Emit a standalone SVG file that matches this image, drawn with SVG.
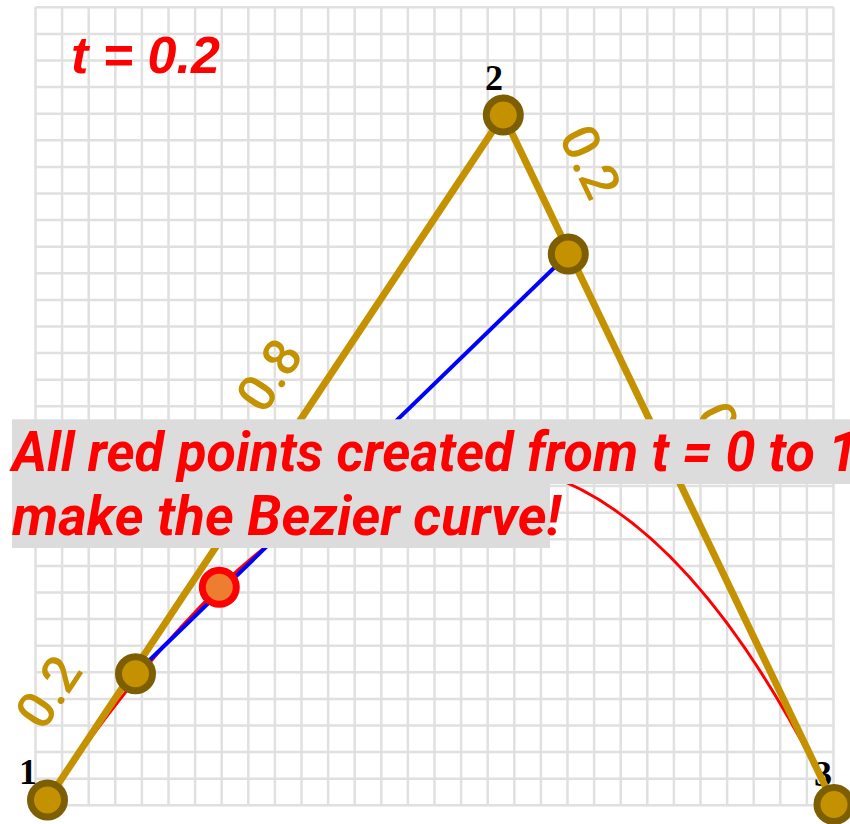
<svg xmlns="http://www.w3.org/2000/svg" width="850" height="824" viewBox="0 0 850 824">
<style>
.grid{stroke:#e0e0e0;stroke-width:2.5;fill:none}
.ctrl{stroke:#c49100;stroke-width:7;fill:none}
.blue{stroke:#0000ff;stroke-width:4;fill:none}
.bez{stroke:#ff0000;stroke-width:3;fill:none}
.pt{fill:#c49100;stroke:#7d5e00;stroke-width:7}
.rp{fill:#ed7d31;stroke:#ff0000;stroke-width:7}
.num{font-family:"Liberation Serif",serif;font-weight:bold;font-size:36px;fill:#000;text-anchor:middle}
.ratio{font-family:Roboto,"Liberation Sans",sans-serif;font-weight:500;font-size:52px;fill:#c49100;text-anchor:middle}
.note{font-family:Roboto,"Liberation Sans",sans-serif;font-weight:bold;font-style:italic;font-size:55px;fill:#ff0000}
.box{fill:#dcdcdc}
</style>
<rect width="850" height="824" fill="#ffffff"/>
<g id="grid">
<path class="grid" d="M35.5 7.3V805.3M62.1 7.3V805.3M88.7 7.3V805.3M115.3 7.3V805.3M141.9 7.3V805.3M168.5 7.3V805.3M195.1 7.3V805.3M221.7 7.3V805.3M248.3 7.3V805.3M274.9 7.3V805.3M301.5 7.3V805.3M328.1 7.3V805.3M354.7 7.3V805.3M381.3 7.3V805.3M407.9 7.3V805.3M434.5 7.3V805.3M461.1 7.3V805.3M487.7 7.3V805.3M514.3 7.3V805.3M540.9 7.3V805.3M567.5 7.3V805.3M594.1 7.3V805.3M620.7 7.3V805.3M647.3 7.3V805.3M673.9 7.3V805.3M700.5 7.3V805.3M727.1 7.3V805.3M753.7 7.3V805.3M780.3 7.3V805.3M806.9 7.3V805.3M833.5 7.3V805.3"/>
<path class="grid" d="M35.5 7.3H833.5M35.5 33.9H833.5M35.5 60.5H833.5M35.5 87.1H833.5M35.5 113.7H833.5M35.5 140.3H833.5M35.5 166.9H833.5M35.5 193.5H833.5M35.5 220.1H833.5M35.5 246.7H833.5M35.5 273.3H833.5M35.5 299.9H833.5M35.5 326.5H833.5M35.5 353.1H833.5M35.5 379.7H833.5M35.5 406.3H833.5M35.5 432.9H833.5M35.5 459.5H833.5M35.5 486.1H833.5M35.5 512.7H833.5M35.5 539.3H833.5M35.5 565.9H833.5M35.5 592.5H833.5M35.5 619.1H833.5M35.5 645.7H833.5M35.5 672.3H833.5M35.5 698.9H833.5M35.5 725.5H833.5M35.5 752.1H833.5M35.5 778.7H833.5M35.5 805.3H833.5"/>
</g>
<g id="point-numbers">
<text class="num" x="28" y="784">1</text>
<text class="num" x="494" y="90">2</text>
<text class="num" x="823" y="786">3</text>
</g>
<g id="connectors">
<path id="bezier-curve" class="bez" d="M47.5 800Q131.5 673.7 219.3 587.3Q568.3 254 834 804.5"/>
<path id="segment-1-2" class="ctrl" d="M47.5 800L503.3 115"/>
<path id="segment-2-3" class="ctrl" d="M503.3 115L834 804.5"/>
<path id="segment-q0-q1" class="blue" d="M135.5 673.7L568.3 254"/>
</g>
<g id="node-1"><circle class="pt" cx="47.5" cy="800" r="17"/></g>
<g id="node-2"><circle class="pt" cx="503.3" cy="115" r="17"/></g>
<g id="node-3"><circle class="pt" cx="834" cy="804.5" r="17"/></g>
<g id="node-q0"><circle class="pt" cx="135.5" cy="673.7" r="17"/></g>
<g id="node-q1"><circle class="pt" cx="568.3" cy="254" r="17"/></g>
<g id="node-red"><circle class="rp" cx="219.3" cy="587.3" r="17"/></g>
<g id="ratio-labels">
<text class="ratio" transform="translate(48.3 691.7) rotate(-56.4)" x="0" y="18.5">0.2</text>
<text class="ratio" transform="translate(269 375) rotate(-56.4)" x="0" y="18.5">0.8</text>
<text class="ratio" transform="translate(590.8 161.7) rotate(64.4)" x="0" y="18.5">0.2</text>
<text class="ratio" transform="translate(727.5 438.8) rotate(64.4)" x="0" y="18.5">0.8</text>
</g>
<g id="note">
<rect class="box" x="12" y="419.3" width="838" height="64.7"/>
<rect class="box" x="12" y="484" width="538" height="64"/>
<text class="note" x="12" y="471" textLength="846" lengthAdjust="spacingAndGlyphs">All red points created from t = 0 to 1</text>
<text class="note" x="12" y="535">make the Bezier curve!</text>
</g>
<g id="title">
<text x="71" y="72.7" font-family="'Liberation Sans',Arial,sans-serif" font-weight="bold" font-style="italic" font-size="52" fill="#ff0000">t = 0.2</text>
</g>
</svg>
